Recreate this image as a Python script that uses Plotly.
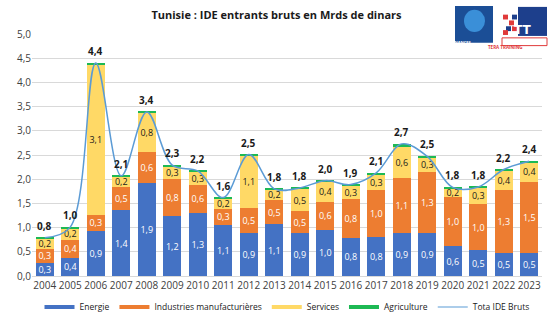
import plotly.graph_objects as go

years = [str(y) for y in range(2004, 2024)]
energie = [0.27, 0.38, 0.93, 1.36, 1.93, 1.23, 1.31, 1.06, 0.88, 1.07,
           0.88, 0.96, 0.79, 0.80, 0.89, 0.89, 0.61, 0.53, 0.48, 0.47]
industries = [0.29, 0.37, 0.34, 0.48, 0.64, 0.77, 0.58, 0.33, 0.53, 0.50,
              0.46, 0.57, 0.80, 0.97, 1.14, 1.26, 1.02, 0.96, 1.29, 1.48]
services = [0.21, 0.24, 3.10, 0.21, 0.80, 0.26, 0.26, 0.21, 1.08, 0.21,
            0.46, 0.42, 0.28, 0.32, 0.64, 0.30, 0.18, 0.34, 0.41, 0.40]
agriculture = [0.02, 0.02, 0.03, 0.02, 0.02, 0.03, 0.02, 0.02, 0.02, 0.02,
               0.02, 0.02, 0.02, 0.04, 0.06, 0.02, 0.02, 0.01, 0.02, 0.02]
total = [round(a + b + c + d, 2) for a, b, c, d in zip(energie, industries, services, agriculture)]

C_EN = "#4472C4"
C_IN = "#ED7D31"
C_SE = "#FFD966"
C_AG = "#1DB954"
C_TOT = "#5B9BD5"
FONT = "Open Sans"


def fmt(v):
    return f"{v:.1f}".replace(".", ",")


fig = go.Figure()
series = [
    ("Energie", energie, C_EN, "white", True),
    ("Industries manufacturières", industries, C_IN, "white", True),
    ("Services", services, C_SE, "#1a1a1a", True),
    ("Agriculture", agriculture, C_AG, "#1a1a1a", False),
]
for name, vals, col, tcol, lab in series:
    fig.add_trace(go.Bar(
        x=years, y=vals, name=name, marker=dict(color=col, line=dict(width=0)),
        text=[fmt(v) for v in vals] if lab else None,
        textposition="inside" if lab else "none",
        insidetextanchor="middle", textangle=0,
        textfont=dict(color=tcol, size=9, family=FONT),
        showlegend=False, hoverinfo="skip",
    ))

fig.add_trace(go.Scatter(
    x=years, y=total, mode="lines", line=dict(color=C_TOT, width=1.5, shape="spline", smoothing=1.0),
    showlegend=False, hoverinfo="skip",
))

# legend entries
for name, _, col, _, _ in series:
    fig.add_trace(go.Scatter(x=[years[0]], y=[None], mode="lines", name=name,
                             line=dict(color=col, width=4), hoverinfo="skip"))
fig.add_trace(go.Scatter(x=[years[0]], y=[None], mode="lines", name="Tota IDE Bruts",
                         line=dict(color=C_TOT, width=1.2), hoverinfo="skip"))

annotations = []
for i, t in enumerate(total):
    annotations.append(dict(x=i, y=t, xref="x", yref="y", text="<b>" + fmt(t) + "</b>",
                            showarrow=False, yshift=12,
                            font=dict(size=10, color="#1a1a1a", family=FONT)))

# logos (decorative approximations)
def px(xp):
    return (xp - 32) / 510.0


def py(yp):
    return (284 - yp) / 250.0


shapes = [
    dict(type="rect", xref="paper", yref="paper", x0=px(455), x1=px(493), y0=py(43), y1=py(5),
         fillcolor="#1B4E96", line=dict(width=0), layer="above"),
    dict(type="circle", xref="paper", yref="paper", x0=px(464), x1=px(485), y0=py(32), y1=py(9),
         fillcolor="#3A8FD8", line=dict(width=0), layer="above"),
    dict(type="rect", xref="paper", yref="paper", x0=px(518), x1=px(547), y0=py(36), y1=py(6),
         fillcolor="#1D3F8C", line=dict(width=0), layer="above"),
    dict(type="rect", xref="paper", yref="paper", x0=px(502), x1=px(547), y0=py(46), y1=py(38),
         fillcolor="white", line=dict(width=1, color="#E03A3A"), layer="above"),
]
for (a, b, c) in [(503, 14, "#E03A3A"), (509, 20, "#E03A3A"), (512, 26, "#E03A3A"),
                  (506, 26, "#1D3F8C"), (512, 14, "#1D3F8C"), (503, 30, "#E03A3A")]:
    shapes.append(dict(type="rect", xref="paper", yref="paper", x0=px(a), x1=px(a + 5),
                       y0=py(b + 5), y1=py(b), fillcolor=c, line=dict(width=0), layer="above"))

annotations += [
    dict(xref="paper", yref="paper", x=px(474), y=py(38.5), text="<b>TERA FINANCES</b>", showarrow=False,
         font=dict(size=4, color="white", family=FONT)),
    dict(xref="paper", yref="paper", x=px(532.5), y=py(21), text="<b>TT</b>", showarrow=False,
         font=dict(size=12, color="white", family="DejaVu Sans")),
    dict(xref="paper", yref="paper", x=px(524.5), y=py(42), text="<b>TERA TRAINING</b>", showarrow=False,
         font=dict(size=4.5, color="#E03A3A", family=FONT)),
]

fig.update_layout(
    width=553, height=332,
    margin=dict(l=32, r=11, t=34, b=48),
    barmode="stack", bargap=0.3,
    paper_bgcolor="white", plot_bgcolor="white",
    separators=", ",
    font=dict(family=FONT, color="#404040", size=10),
    title=dict(text="<b>Tunisie : IDE entrants bruts en Mrds de dinars</b>", x=0.5, xanchor="center",
               y=1 - 15 / 332, yanchor="middle", font=dict(size=11, color="#1a1a1a", family=FONT)),
    xaxis=dict(type="category", categoryorder="array", categoryarray=years,
               range=[-0.5, len(years) - 0.5],
               tickfont=dict(size=10, color="#404040"), showgrid=False,
               showline=True, linecolor="#D9D9D9", ticks=""),
    yaxis=dict(range=[0, 5], dtick=0.5, tickformat=".1f", showgrid=True, gridcolor="#D9D9D9",
               gridwidth=1, zeroline=False, ticks="", tickfont=dict(size=10, color="#404040")),
    legend=dict(orientation="h", x=0.5, xanchor="center", y=-0.128, yanchor="middle",
                traceorder="normal",
                font=dict(size=8.5, color="#1a1a1a"), itemwidth=30, bgcolor="rgba(0,0,0,0)"),
    uniformtext=dict(minsize=9, mode="show"),
    annotations=annotations, shapes=shapes,
)

fig.write_html("out.html")
